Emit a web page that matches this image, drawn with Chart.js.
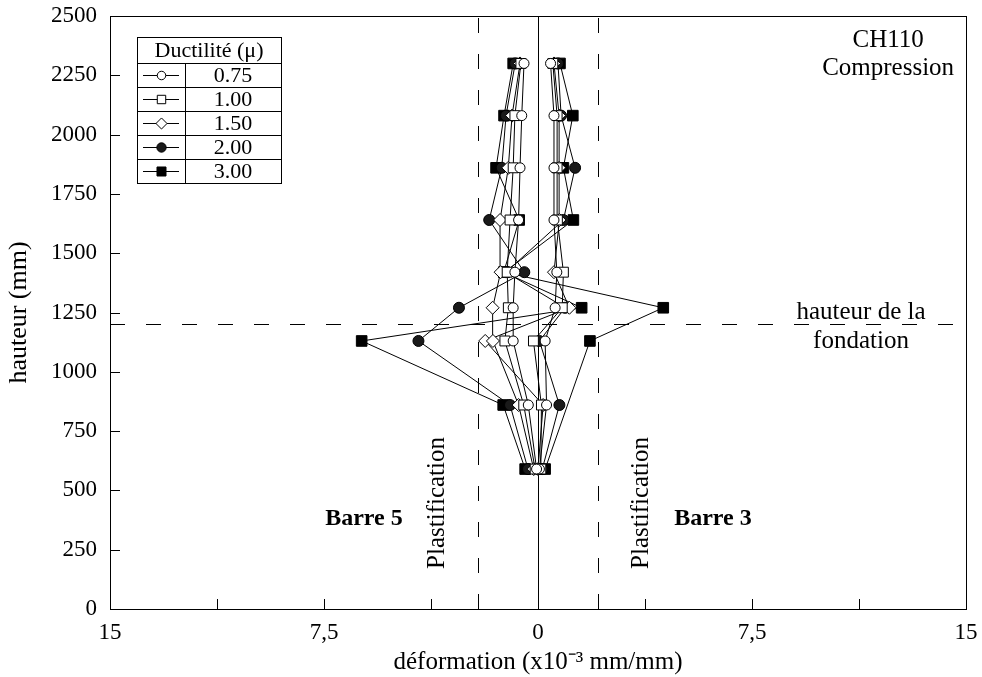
<!DOCTYPE html>
<html lang="fr">
<head>
<meta charset="utf-8">
<title>CH110 Compression – déformation des barres</title>
<script src="https://cdn.jsdelivr.net/npm/chart.js@4.4.1/dist/chart.umd.min.js"></script>
<style>
  html, body { margin: 0; padding: 0; background: #fff; }
  #wrap { width: 982px; height: 677px; }
</style>
</head>
<body>
<div id="wrap"><canvas id="chart" width="982" height="677"></canvas></div>
<script>
// Hauteurs des jauges le long des barres (mm)
const heights = [590, 860, 1130, 1270, 1420, 1640, 1860, 2080, 2300];

// Barre 5 (côté gauche) : déformation (x10^-3 mm/mm) par niveau de ductilité
const barre5Mu075 = [-0.05, -0.34, -0.87, -0.87, -0.81, -0.68, -0.63, -0.57, -0.49];
const barre5Mu100 = [-0.10, -0.50, -1.16, -1.04, -1.08, -0.98, -0.87, -0.81, -0.60];
const barre5Mu150 = [-0.15, -0.68, -1.58, -1.59, -1.31, -1.33, -1.04, -0.91, -0.63];
const barre5Mu200 = [-0.35, -0.98, -4.19, -2.77, -0.48, -1.71, -1.27, -1.12, -0.80];
const barre5Mu300 = [-0.45, -1.22, -6.18, 1.53, -1.20, -0.66, -1.47, -1.19, -0.87];

// Barre 3 (côté droit)
const barre3Mu075 = [0.05, 0.30, 0.25, 0.60, 0.66, 0.56, 0.56, 0.56, 0.44];
const barre3Mu100 = [0.10, 0.12, -0.16, 0.85, 0.89, 0.68, 0.67, 0.67, 0.52];
const barre3Mu150 = [0.00, 0.18, -1.85, 1.10, 0.56, 0.75, 0.74, 0.74, 0.56];
const barre3Mu200 = [0.15, 0.75, 0.05, 0.95, -1.12, 0.89, 1.30, 0.81, 0.70];
const barre3Mu300 = [0.25, null, 1.82, 4.39, -1.18, 1.24, 0.89, 1.22, 0.77];

// Légende : niveaux de ductilité
const ductilityLabels = ['0.75', '1.00', '1.50', '2.00', '3.00'];

// Repères : déformation de plastification et hauteur de la fondation
const yieldStrain = 2.1;
const foundationHeight = 1200;

const FONT = '"Liberation Serif", "Times New Roman", serif';

// Symbole de chaque niveau de ductilité
const markerStyles = [
  { pointStyle: 'circle',  radius: 5,   fill: '#ffffff' },
  { pointStyle: 'rect',    radius: 7,   fill: '#ffffff' },
  { pointStyle: 'rectRot', radius: 6.5, fill: '#ffffff' },
  { pointStyle: 'circle',  radius: 5.5, fill: '#1a1a1a' },
  { pointStyle: 'rect',    radius: 7.5, fill: '#000000' }
];

const barre5Series = [barre5Mu075, barre5Mu100, barre5Mu150, barre5Mu200, barre5Mu300];
const barre3Series = [barre3Mu075, barre3Mu100, barre3Mu150, barre3Mu200, barre3Mu300];

function toPoints(values) {
  return heights
    .map((h, i) => ({ x: values[i], y: h }))
    .filter(p => p.x !== null);
}

function makeDataset(label, values, k) {
  const s = markerStyles[k];
  return {
    label: label,
    data: toPoints(values),
    showLine: true,
    borderColor: '#000',
    borderWidth: 1,
    pointStyle: s.pointStyle,
    pointRadius: s.radius,
    pointHoverRadius: s.radius,
    pointBackgroundColor: s.fill,
    pointBorderColor: '#000',
    pointBorderWidth: 1,
    tension: 0
  };
}

const datasets = [];
ductilityLabels.forEach((lab, k) => {
  datasets.push(makeDataset('Barre 5 – μ = ' + lab, barre5Series[k], k));
  datasets.push(makeDataset('Barre 3 – μ = ' + lab, barre3Series[k], k));
});

// Textes placés dans le repère des données
const annotations = [
  { text: 'CH110',          x: 12.27, y: 2399, size: 25, bold: false, rot: false },
  { text: 'Compression',    x: 12.27, y: 2277, size: 25, bold: false, rot: false },
  { text: 'hauteur de la',  x: 11.32, y: 1250, size: 25, bold: false, rot: false },
  { text: 'fondation',      x: 11.32, y: 1130, size: 25, bold: false, rot: false },
  { text: 'Barre 5',        x: -6.10, y: 379,  size: 24, bold: true,  rot: false },
  { text: 'Barre 3',        x: 6.13,  y: 379,  size: 24, bold: true,  rot: false },
  { text: 'Plastification', x: -3.54, y: 447,  size: 25, bold: false, rot: true },
  { text: 'Plastification', x: 3.61,  y: 447,  size: 25, bold: false, rot: true }
];

function drawMarker(ctx, style, cx, cy) {
  ctx.beginPath();
  if (style.pointStyle === 'circle') {
    ctx.arc(cx, cy, style.radius, 0, Math.PI * 2);
  } else if (style.pointStyle === 'rect') {
    const h = style.radius * Math.SQRT1_2;
    ctx.rect(cx - h, cy - h, 2 * h, 2 * h);
  } else {
    const r = style.radius;
    ctx.moveTo(cx, cy - r); ctx.lineTo(cx + r, cy);
    ctx.lineTo(cx, cy + r); ctx.lineTo(cx - r, cy); ctx.closePath();
  }
  ctx.fillStyle = style.fill;
  ctx.fill();
  ctx.stroke();
}

const decorations = {
  id: 'decorations',
  beforeDatasetsDraw(chart) {
    const { ctx, chartArea: a, scales: { x, y } } = chart;
    ctx.save();
    ctx.strokeStyle = '#000';
    ctx.lineWidth = 1;
    // axe vertical à déformation nulle
    const x0 = Math.round(x.getPixelForValue(0)) + 0.5;
    ctx.beginPath(); ctx.moveTo(x0, a.top); ctx.lineTo(x0, a.bottom); ctx.stroke();
    // limites de plastification et hauteur de fondation (tirets)
    ctx.setLineDash([15, 21]);
    [-yieldStrain, yieldStrain].forEach(v => {
      const px = Math.round(x.getPixelForValue(v)) + 0.5;
      ctx.beginPath(); ctx.moveTo(px, a.bottom); ctx.lineTo(px, a.top); ctx.stroke();
    });
    const py = Math.round(y.getPixelForValue(foundationHeight)) + 0.5;
    ctx.beginPath(); ctx.moveTo(a.left, py); ctx.lineTo(a.right, py); ctx.stroke();
    ctx.restore();
  },
  afterDraw(chart) {
    const { ctx, chartArea: a, scales: { x, y } } = chart;
    ctx.save();
    ctx.strokeStyle = '#000';
    ctx.lineWidth = 1;

    // cadre
    ctx.strokeRect(Math.round(a.left) + 0.5, Math.round(a.top) + 0.5,
                   Math.round(a.right - a.left), Math.round(a.bottom - a.top));

    // graduations intérieures
    const tl = 10;
    x.ticks.forEach(t => {
      const px = Math.round(x.getPixelForValue(t.value)) + 0.5;
      if (px <= a.left + 1 || px >= a.right - 1) return;
      ctx.beginPath(); ctx.moveTo(px, a.bottom); ctx.lineTo(px, a.bottom - tl); ctx.stroke();
    });
    y.ticks.forEach(t => {
      const py = Math.round(y.getPixelForValue(t.value)) + 0.5;
      if (py <= a.top + 1 || py >= a.bottom - 1) return;
      ctx.beginPath(); ctx.moveTo(a.left, py); ctx.lineTo(a.left + tl, py); ctx.stroke();
    });

    // textes
    ctx.fillStyle = '#000';
    ctx.textAlign = 'center';
    ctx.textBaseline = 'middle';
    annotations.forEach(n => {
      ctx.font = (n.bold ? 'bold ' : '') + n.size + 'px ' + FONT;
      const px = x.getPixelForValue(n.x);
      const py = y.getPixelForValue(n.y);
      if (n.rot) {
        ctx.save();
        ctx.translate(px, py);
        ctx.rotate(-Math.PI / 2);
        ctx.fillText(n.text, 0, 0);
        ctx.restore();
      } else {
        ctx.fillText(n.text, px, py);
      }
    });

    // légende en tableau
    const L = a.left + 27, T = a.top + 21;
    const W = 144, headH = 26, rowH = 24;
    const H = headH + rowH * ductilityLabels.length;
    const divX = L + 48;
    ctx.fillStyle = '#fff';
    ctx.fillRect(L, T, W, H);
    ctx.strokeStyle = '#000';
    ctx.lineWidth = 1;
    ctx.strokeRect(L + 0.5, T + 0.5, W, H);
    ctx.beginPath();
    for (let i = 0; i < ductilityLabels.length; i++) {
      const ly = Math.round(T + headH + i * rowH) + 0.5;
      ctx.moveTo(L, ly); ctx.lineTo(L + W, ly);
    }
    ctx.moveTo(divX + 0.5, T + headH); ctx.lineTo(divX + 0.5, T + H);
    ctx.stroke();

    ctx.fillStyle = '#000';
    ctx.font = '22px ' + FONT;
    ctx.fillText('Ductilité (μ)', L + W / 2, T + headH / 2 + 1);
    ductilityLabels.forEach((lab, i) => {
      const cy = T + headH + i * rowH + rowH / 2;
      ctx.fillStyle = '#000';
      ctx.font = '22px ' + FONT;
      ctx.fillText(lab, (divX + L + W) / 2, cy + 1);
      const my = Math.round(cy) + 0.5;
      ctx.beginPath(); ctx.moveTo(L + 6, my); ctx.lineTo(divX - 6, my); ctx.stroke();
      drawMarker(ctx, Object.assign({}, markerStyles[i], {
        radius: markerStyles[i].radius * 0.85
      }), (L + divX) / 2 + 0.5, my);
    });
    ctx.restore();
  }
};

new Chart(document.getElementById('chart'), {
  type: 'scatter',
  data: { datasets: datasets },
  options: {
    responsive: false,
    animation: false,
    layout: { padding: { top: 16, right: 16, left: 0, bottom: 0 } },
    plugins: {
      legend: { display: false },
      tooltip: { enabled: false }
    },
    scales: {
      x: {
        type: 'linear',
        min: -15,
        max: 15,
        afterFit: s => {
          s.height = 68;
          s.paddingLeft = 0; s.paddingRight = 0;
        },
        grid: { display: false, drawTicks: false },
        border: { display: false },
        ticks: {
          stepSize: 3.75,
          autoSkip: false,
          maxRotation: 0,
          padding: 10,
          color: '#000',
          font: { family: FONT, size: 23 },
          callback: v => (Math.abs(v) % 7.5 === 0) ? String(Math.abs(v)).replace('.', ',') : ''
        },
        title: {
          display: true,
          text: 'déformation (x10⁻³ mm/mm)',
          color: '#000',
          font: { family: FONT, size: 25 },
          padding: { top: 0, bottom: 0 }
        }
      },
      y: {
        type: 'linear',
        min: 0,
        max: 2500,
        afterFit: s => {
          s.width = 110;
          s.paddingTop = 0; s.paddingBottom = 0;
        },
        grid: { display: false, drawTicks: false },
        border: { display: false },
        ticks: {
          stepSize: 250,
          autoSkip: false,
          padding: 13,
          color: '#000',
          font: { family: FONT, size: 23 },
          callback: v => String(v)
        },
        title: {
          display: true,
          text: 'hauteur (mm)',
          color: '#000',
          font: { family: FONT, size: 26 },
          padding: { top: 4, bottom: 0 }
        }
      }
    }
  },
  plugins: [decorations]
});
</script>
</body>
</html>
